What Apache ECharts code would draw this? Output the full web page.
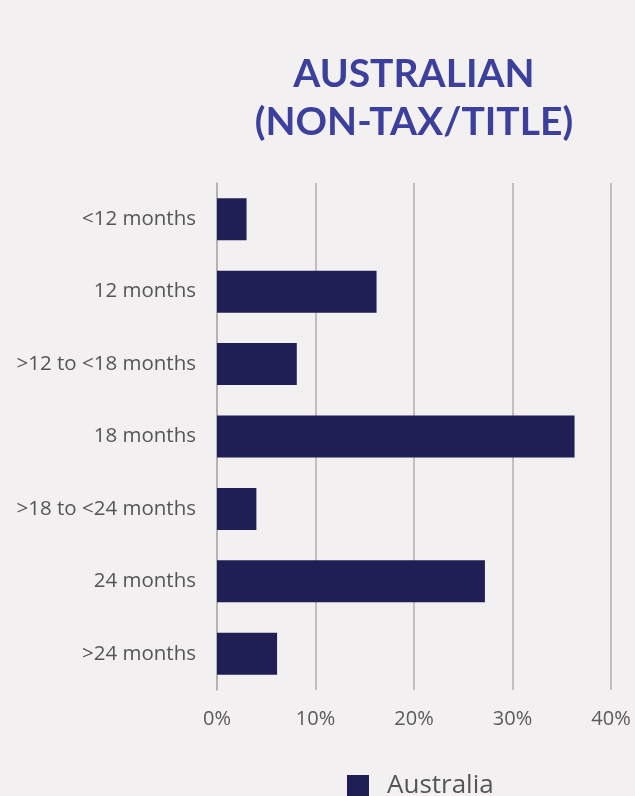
<!DOCTYPE html>
<html>
<head>
<meta charset="utf-8">
<script src="https://cdn.jsdelivr.net/npm/echarts@6/dist/echarts.min.js"></script>
<style>
  html, body { margin: 0; padding: 0; background: #f2f0f1; }
  #chart { width: 635px; height: 796px; }
</style>
</head>
<body>
<div id="chart"></div>
<script>
// durations, top to bottom as in the picture
const categories = ['<12 months', '12 months', '>12 to <18 months', '18 months', '>18 to <24 months', '24 months', '>24 months'];
const australia = [3, 16.2, 8.1, 36.3, 4, 27.2, 6.1];
const seriesName = 'Australia';

let chart = echarts.init(document.getElementById('chart'));
chart.setOption({
  backgroundColor: '#f2f0f1',
  animation: false,
  title: {
    text: 'AUSTRALIAN\n(NON-TAX/TITLE)',
    left: 414,
    textAlign: 'center',
    top: 50,
    padding: 0,
    textStyle: {
      color: '#3c3f9c',
      fontFamily: 'Lato',
      fontWeight: 'bold',
      fontSize: 39,
      lineHeight: 48
    }
  },
  legend: {
    data: [seriesName],
    top: 773,
    left: 347,
    padding: 0,
    itemWidth: 22,
    itemHeight: 22,
    itemGap: 10,
    icon: 'rect',
    textStyle: { color: '#555', fontFamily: 'Open Sans', fontSize: 26, padding: [0, 0, 0, 13] }
  },
  grid: { left: 217, right: 24, top: 183, bottom: 106 },
  xAxis: {
    type: 'value',
    min: 0,
    max: 40,
    interval: 10,
    axisLine: { show: false },
    axisTick: { show: false },
    splitLine: { lineStyle: { color: '#b3aea9', width: 1.5 } },
    axisLabel: {
      formatter: '{value}%',
      color: '#5a5a5a',
      fontFamily: 'Open Sans',
      fontSize: 20,
      margin: 19
    }
  },
  yAxis: {
    type: 'category',
    inverse: true,
    data: categories,
    axisLine: { lineStyle: { color: '#b3aea9', width: 1.5 } },
    axisTick: { show: false },
    axisLabel: { color: '#555', fontFamily: 'Open Sans', fontSize: 20.5, margin: 21 }
  },
  series: [{
    name: seriesName,
    type: 'bar',
    data: australia,
    barWidth: 42,
    itemStyle: { color: '#1f1f55' }
  }]
});
</script>
</body>
</html>
